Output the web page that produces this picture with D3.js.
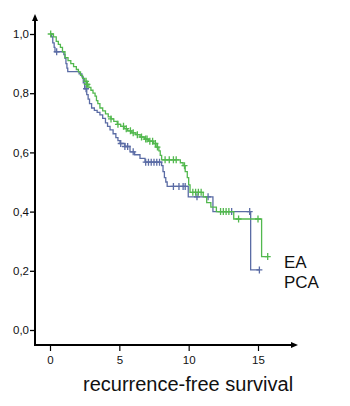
<!DOCTYPE html>
<html>
<head>
<meta charset="utf-8">
<script src="https://cdn.jsdelivr.net/npm/d3@7"></script>
<style>
  body { margin: 0; background: #fff; }
  svg { display: block; font-family: Arial, "Liberation Sans", sans-serif; }
</style>
</head>
<body>
<div id="chart"></div>
<script>
// Kaplan-Meier step events: [time, survival after the step]
const eaEvents = [
  [0, 1.0], [0.25, 0.99], [0.45, 0.975], [0.6, 0.965], [0.75, 0.955], [0.9, 0.94],
  [1.08, 0.92], [1.3, 0.91], [1.5, 0.9], [1.7, 0.89], [1.9, 0.88], [2.05, 0.872],
  [2.2, 0.86], [2.35, 0.85], [2.5, 0.84], [2.65, 0.83], [2.8, 0.82], [2.95, 0.81],
  [3.1, 0.8], [3.25, 0.79], [3.35, 0.775], [3.45, 0.765], [3.6, 0.75], [3.8, 0.74],
  [4.0, 0.73], [4.2, 0.72], [4.4, 0.713], [4.6, 0.705], [4.85, 0.695], [5.1, 0.688],
  [5.35, 0.68], [5.6, 0.673], [5.9, 0.666], [6.2, 0.66], [6.5, 0.652], [6.8, 0.645],
  [7.1, 0.638], [7.45, 0.63], [7.65, 0.618], [7.85, 0.605], [7.95, 0.59], [8.05, 0.575],
  [9.4, 0.565], [9.6, 0.555], [9.75, 0.535], [9.9, 0.515], [10.0, 0.49], [10.1, 0.465],
  [11.05, 0.45], [11.3, 0.43], [11.6, 0.415], [12.0, 0.4], [13.25, 0.375], [15.26, 0.248]
];
const eaEnd = 15.7;
const eaCensored = [0.05, 2.6, 2.65, 2.7, 4.4, 4.9, 5.3, 5.5, 5.8, 6.0, 6.3, 6.6, 6.9, 7.0,
  7.2, 7.4, 7.6, 7.75, 8.3, 8.6, 8.9, 9.1, 9.7, 10.3, 10.5, 10.7, 10.9, 12.3, 12.5, 12.7,
  12.9, 13.6, 15.0, 15.7];

const pcaEvents = [
  [0, 1.0], [0.12, 0.99], [0.2, 0.97], [0.3, 0.955], [0.36, 0.94], [1.0, 0.93],
  [1.08, 0.918], [1.15, 0.9], [1.22, 0.885], [1.28, 0.873], [2.1, 0.865], [2.3, 0.855],
  [2.4, 0.835], [2.5, 0.815], [2.65, 0.795], [2.75, 0.78], [2.85, 0.765], [3.0, 0.75],
  [3.2, 0.742], [3.4, 0.735], [3.6, 0.727], [3.8, 0.715], [4.0, 0.7], [4.15, 0.688],
  [4.33, 0.676], [4.55, 0.663], [4.75, 0.65], [4.9, 0.64], [5.05, 0.63], [5.4, 0.62],
  [5.77, 0.602], [6.1, 0.592], [6.49, 0.58], [6.85, 0.567], [8.05, 0.555], [8.15, 0.535],
  [8.25, 0.515], [8.35, 0.5], [8.45, 0.485], [9.97, 0.45], [11.75, 0.4], [14.47, 0.203]
];
const pcaEnd = 15.1;
const pcaCensored = [0.48, 2.6, 5.1, 5.4, 5.6, 6.0, 6.9, 7.1, 7.3, 7.5, 7.7, 7.9, 8.9,
  9.3, 9.6, 9.75, 10.6, 11.4, 13.1, 14.4, 15.1];

const yTicks = [0, 0.2, 0.4, 0.6, 0.8, 1.0];
const xTicks = [0, 5, 10, 15];
const seriesNames = ["EA", "PCA"];

const width = 350, height = 406;
const eaColor = "#52b84e", pcaColor = "#5b6ca5";

const svg = d3.select("#chart").append("svg")
  .attr("width", width).attr("height", height);

const x = d3.scaleLinear().domain([0, 15]).range([50, 258]);
const y = d3.scaleLinear().domain([0, 1]).range([330, 34]);

const axisX = 35, axisY = 345;

// axes lines with arrows
svg.append("line").attr("x1", axisX).attr("x2", axisX).attr("y1", axisY).attr("y2", 20)
  .attr("stroke", "#000").attr("stroke-width", 2);
svg.append("path").attr("d", `M${axisX - 3},${21} L${axisX},${14} L${axisX + 3},${21} Z`).attr("fill", "#000");
svg.append("line").attr("x1", axisX - 1).attr("x2", 292).attr("y1", axisY).attr("y2", axisY)
  .attr("stroke", "#000").attr("stroke-width", 2);
svg.append("path").attr("d", `M${291},${axisY - 3} L${298},${axisY} L${291},${axisY + 3} Z`).attr("fill", "#000");

const fmt = d => d3.format(".1f")(d).replace(".", ",");
const yAxis = svg.append("g").attr("transform", `translate(${axisX},0)`)
  .call(d3.axisLeft(y).tickValues(yTicks).tickFormat(fmt).tickSize(5).tickPadding(1));
yAxis.select(".domain").remove();
yAxis.selectAll("text").style("font-size", "11.5px").attr("fill", "#111")
  .style("font-family", "Arial, 'Liberation Sans', sans-serif");
yAxis.selectAll("line").attr("stroke-width", 1.3);

const xAxis = svg.append("g").attr("transform", `translate(0,${axisY})`)
  .call(d3.axisBottom(x).tickValues(xTicks).tickSize(6).tickPadding(5));
xAxis.select(".domain").remove();
xAxis.selectAll("text").style("font-size", "11.5px").attr("fill", "#111")
  .style("font-family", "Arial, 'Liberation Sans', sans-serif");
xAxis.selectAll("line").attr("stroke-width", 1.2);

svg.append("text").attr("x", 83).attr("y", 391)
  .style("font-size", "20px").attr("fill", "#111")
  .text("recurrence-free survival");

// step curves
const line = d3.line().x(d => x(d[0])).y(d => y(d[1])).curve(d3.curveStepAfter);

function survivalAt(events, t) {
  let s = 1;
  for (const e of events) { if (e[0] <= t) s = e[1]; }
  return s;
}

function drawSeries(events, end, censored, color) {
  const pts = events.concat([[end, events[events.length - 1][1]]]);
  svg.append("path").datum(pts)
    .attr("d", line).attr("fill", "none")
    .attr("stroke", color).attr("stroke-width", 1.3);
  const g = svg.append("g");
  g.selectAll("path").data(censored).join("path")
    .attr("d", t => {
      const cx = x(t), cy = y(survivalAt(events, t));
      return `M${cx - 3},${cy} H${cx + 3} M${cx},${cy - 3.5} V${cy + 3.5}`;
    })
    .attr("stroke", color).attr("stroke-width", 1.3).attr("fill", "none");
}

drawSeries(pcaEvents, pcaEnd, pcaCensored, pcaColor);
drawSeries(eaEvents, eaEnd, eaCensored, eaColor);

// legend labels
svg.selectAll("text.legend").data(seriesNames).join("text")
  .attr("class", "legend")
  .attr("x", 284).attr("y", (d, i) => 268 + i * 20)
  .style("font-size", "17px").attr("fill", "#111")
  .text(d => d);
</script>
</body>
</html>
